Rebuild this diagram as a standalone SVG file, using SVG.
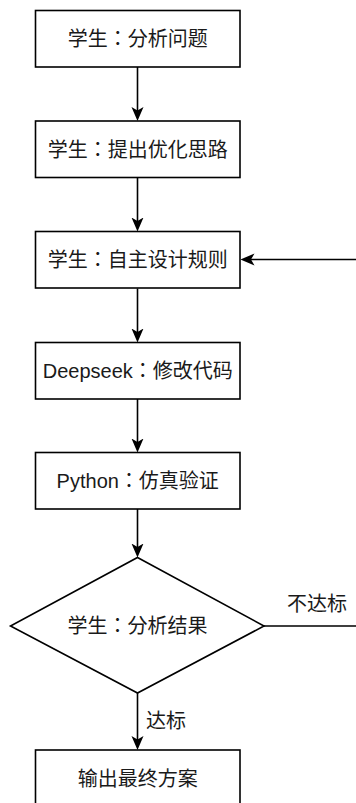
<svg xmlns="http://www.w3.org/2000/svg" width="356" height="803" viewBox="0 0 356 803">
<style>
.box{fill:#fff;stroke:#000;stroke-width:1.6}
.t{font-family:"Liberation Sans","Noto Sans CJK JP",sans-serif;font-size:20px;fill:#1a1a1a;text-anchor:middle}
.lbl{font-family:"Liberation Sans","Noto Sans CJK SC",sans-serif;font-size:20px;fill:#1a1a1a}
.c{fill:none;stroke:#000;stroke-width:1.6}
</style>
<defs>
<marker id="arr" markerUnits="userSpaceOnUse" viewBox="0 0 14 14" markerWidth="14" markerHeight="14" refX="4" refY="7" orient="auto">
<path d="M14,7 L0,1 L3.5,7 L0,13 Z" fill="#000"/>
</marker>
</defs>
<rect width="356" height="803" fill="#fff"/>
<g id="connectors">
<path class="c" d="M137.5,67 V111" marker-end="url(#arr)"/>
<path class="c" d="M137.5,178 V221.5" marker-end="url(#arr)"/>
<path class="c" d="M137.5,288.5 V332.5" marker-end="url(#arr)"/>
<path class="c" d="M137.5,399 V442.5" marker-end="url(#arr)"/>
<path class="c" d="M137.5,509 V547.5" marker-end="url(#arr)"/>
<path class="c" d="M137.5,693 V740" marker-end="url(#arr)"/>
<path class="c" d="M264,626 H362 V259.5 H250.5" marker-end="url(#arr)"/>
<text class="lbl" x="287" y="611">不达标</text>
<text class="lbl" x="146" y="728">达标</text>
</g>
<g id="n1"><rect class="box" x="35.5" y="10.5" width="204.5" height="56.5"/><text class="t" x="137.75" y="46">学生：分析问题</text></g>
<g id="n2"><rect class="box" x="35.5" y="121" width="204.5" height="56.5"/><text class="t" x="137.75" y="156.5">学生：提出优化思路</text></g>
<g id="n3"><rect class="box" x="35.5" y="231.5" width="204.5" height="56.5"/><text class="t" x="137.75" y="267">学生：自主设计规则</text></g>
<g id="n4"><rect class="box" x="35.5" y="342.5" width="204.5" height="56.5"/><text class="t" x="137.75" y="378">Deepseek：修改代码</text></g>
<g id="n5"><rect class="box" x="35.5" y="452.5" width="204.5" height="56.5"/><text class="t" x="137.75" y="488">Python：仿真验证</text></g>
<g id="n6"><path class="box" d="M137.5,557.5 L264,626 L137.5,693 L10.5,626 Z"/><text class="t" x="137.5" y="633">学生：分析结果</text></g>
<g id="n7"><rect class="box" x="35.5" y="750" width="204.5" height="56.5"/><text class="t" x="137.75" y="785.5">输出最终方案</text></g>
</svg>
